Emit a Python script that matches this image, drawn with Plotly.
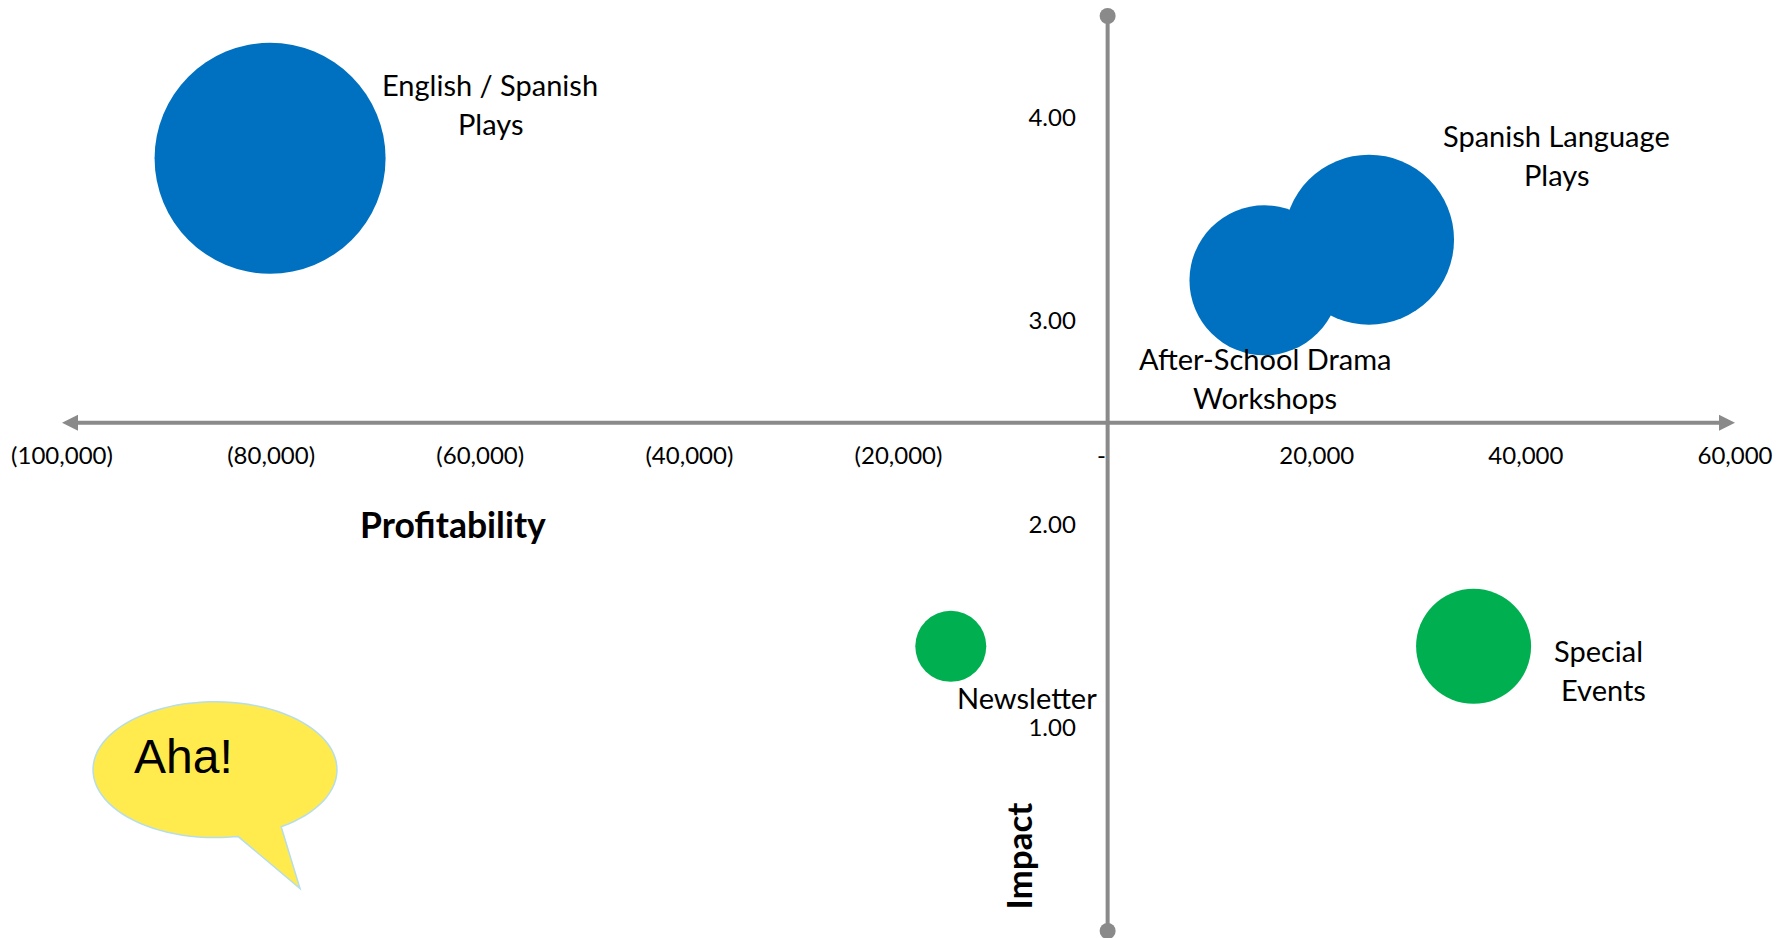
import math
import plotly.graph_objects as go

# ---- data ----
categories = ["English / Spanish Plays", "Spanish Language Plays", "After-School Drama Workshops",
              "Newsletter", "Special Events"]
profitability = [-80100, 25000, 15000, -15000, 35000]
impact = [3.80, 3.40, 3.20, 1.40, 1.40]
bubble_size = [231, 170, 150, 71, 115]
bubble_colors = ["#0070C0", "#0070C0", "#0070C0", "#00B050", "#00B050"]

x_tickvals = [-100000, -80000, -60000, -40000, -20000, 0, 20000, 40000, 60000]
x_ticktext = ["(100,000)", "(80,000)", "(60,000)", "(40,000)", "(20,000)", "-\u00a0\u00a0",
              "20,000", "40,000", "60,000"]
y_tickvals = [0, 1, 2, 3, 4]
y_ticktext = ["-\u00a0\u00a0", "1.00", "2.00", "3.00", "4.00"]

X_RANGE = [-100000, 60000]
Y_RANGE = [0, 4.5]
X_CROSS = 0
Y_CROSS = 2.5

W, H = 1791, 938
ML, MR, MT, MB = 62, 56, 15.5, 6.5
AXIS = "#8A8A8A"
FONT = "Lato"


def px(x):
    return (x - ML) / (W - ML - MR)


def py(y):
    return 1 - (y - MT) / (H - MT - MB)


fig = go.Figure()
fig.add_trace(go.Scatter(
    x=[X_CROSS, X_CROSS], y=Y_RANGE, mode="markers", hoverinfo="skip", cliponaxis=False,
    marker=dict(size=16, color=AXIS, line=dict(width=0)), showlegend=False))
fig.add_trace(go.Scatter(
    x=profitability, y=impact, mode="markers", text=categories,
    marker=dict(size=bubble_size, sizemode="diameter", color=bubble_colors, opacity=1,
                line=dict(width=0)),
    hovertemplate="%{text}<extra></extra>", cliponaxis=False, showlegend=False))

shapes = [
    dict(type="line", xref="x", yref="y", x0=-99000, x1=59000, y0=Y_CROSS, y1=Y_CROSS,
         line=dict(color=AXIS, width=4), layer="below"),
    dict(type="line", xref="x", yref="y", x0=X_CROSS, x1=X_CROSS, y0=Y_RANGE[0], y1=Y_RANGE[1],
         line=dict(color=AXIS, width=4), layer="below"),
    dict(type="path", xref="x", yref="y", xsizemode="pixel", ysizemode="pixel",
         xanchor=X_RANGE[0], yanchor=Y_CROSS, path="M0,0 L16,8 L16,-8 Z",
         fillcolor=AXIS, line=dict(width=0), layer="below"),
    dict(type="path", xref="x", yref="y", xsizemode="pixel", ysizemode="pixel",
         xanchor=X_RANGE[1], yanchor=Y_CROSS, path="M0,0 L-16,8 L-16,-8 Z",
         fillcolor=AXIS, line=dict(width=0), layer="below"),
]

# speech bubble (page decoration, laid out in pixels)
cx, cy, rx, ry = 215, 770, 122, 68
a0 = math.atan2((827 - cy) / ry, (281 - cx) / rx)
a1 = math.atan2((837 - cy) / ry, (238 - cx) / rx)
pts = []
steps = 90
for i in range(steps + 1):
    a = a1 + (a0 + 2 * math.pi - a1) * i / steps
    pts.append((cx + rx * math.cos(a), cy + ry * math.sin(a)))
pts.append((300, 889))
path = "M" + " L".join(f"{px(p[0]):.5f},{py(p[1]):.5f}" for p in pts) + " Z"
shapes.append(dict(type="path", xref="paper", yref="paper", path=path, fillcolor="#FFEB4D",
                   line=dict(color="#B7DDE8", width=1.5), layer="above"))

labels = [
    ("English / Spanish", 490, 84), ("Plays", 490, 123),
    ("Spanish Language", 1556, 135.5), ("Plays", 1556, 174.5),
    ("After-School Drama", 1265, 358), ("Workshops", 1265, 397),
    ("Newsletter", 1027, 697.5),
    ("Special", 1598, 650.5), ("Events", 1603, 689.5),
]
annotations = [dict(text=t, xref="paper", yref="paper", x=px(x), y=py(y), xanchor="center",
                    yanchor="middle", showarrow=False, font=dict(family=FONT, size=29, color="#000"))
               for t, x, y in labels]
annotations += [
    dict(text="<b>Profitability</b>", xref="paper", yref="paper", x=px(453), y=py(525),
         xanchor="center", yanchor="middle", showarrow=False,
         font=dict(family=FONT, size=35.5, color="#000")),
    dict(text="<b>Impact</b>", xref="paper", yref="paper", x=px(1018), y=py(857),
         xanchor="center", yanchor="middle", showarrow=False, textangle=-90,
         font=dict(family=FONT, size=35, color="#000")),
    dict(text="Aha!", xref="paper", yref="paper", x=px(132), y=py(757),
         xanchor="left", yanchor="middle", showarrow=False,
         font=dict(family="Liberation Sans", size=48, color="#000")),
]

fig.update_layout(
    width=W, height=H, autosize=False,
    margin=dict(l=ML, r=MR, t=MT, b=MB),
    paper_bgcolor="white", plot_bgcolor="white", showlegend=False,
    shapes=shapes, annotations=annotations,
    xaxis=dict(range=X_RANGE, anchor="free", position=(Y_CROSS - Y_RANGE[0]) / (Y_RANGE[1] - Y_RANGE[0]),
               tickmode="array", tickvals=x_tickvals, ticktext=x_ticktext,
               ticks="outside", ticklen=12, tickcolor="rgba(0,0,0,0)", showline=False,
               showgrid=False, zeroline=False, fixedrange=True,
               tickfont=dict(family=FONT, size=24, color="#000")),
    yaxis=dict(range=Y_RANGE, anchor="free", position=(X_CROSS - X_RANGE[0]) / (X_RANGE[1] - X_RANGE[0]),
               tickmode="array", tickvals=y_tickvals, ticktext=y_ticktext,
               ticks="outside", ticklen=27, tickcolor="rgba(0,0,0,0)", showline=False,
               showgrid=False, zeroline=False, fixedrange=True,
               tickfont=dict(family=FONT, size=24, color="#000")),
)

fig.write_html("out.html", config=dict(displayModeBar=False),
               post_script="document.body.style.margin='0';")
